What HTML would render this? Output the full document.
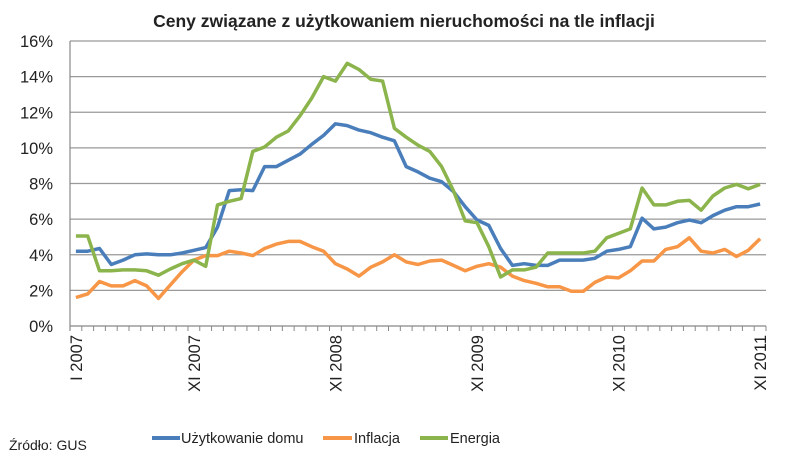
<!DOCTYPE html>
<html><head><meta charset="utf-8"><style>
body{margin:0;background:#fff;}
svg{display:block;font-family:"Liberation Sans",sans-serif;}
</style></head><body>
<svg id="chart" width="805" height="462">
<text x="404" y="27" text-anchor="middle" font-size="17.5" font-weight="bold" fill="#222">Ceny związane z użytkowaniem nieruchomości na tle inflacji</text>
<g id="grid"></g><g id="series"></g><g id="axes"></g>
<text x="9" y="450" font-size="14" fill="#222">Źródło:  GUS</text>
<g>
<line x1="152" y1="438" x2="180" y2="438" stroke="#4a7ebb" stroke-width="4"/>
<text x="181" y="443" font-size="14.5" fill="#222">Użytkowanie domu</text>
<line x1="323" y1="438" x2="352" y2="438" stroke="#f79646" stroke-width="4"/>
<text x="354" y="443" font-size="14.5" fill="#222">Inflacja</text>
<line x1="420" y1="438" x2="448" y2="438" stroke="#8cb44c" stroke-width="4"/>
<text x="450" y="443" font-size="14.5" fill="#222">Energia</text>
</g>
</svg>
<script>
const xLabels = {0:"I 2007",10:"XI 2007",22:"XI 2008",34:"XI 2009",46:"XI 2010",58:"XI 2011"};
const yTicks = [0,2,4,6,8,10,12,14,16];
const uzytkowanie = [4.2,4.2,4.35,3.45,3.7,4.0,4.05,4.0,4.0,4.1,4.25,4.4,5.55,7.6,7.65,7.6,8.95,8.95,9.3,9.65,10.2,10.7,11.35,11.25,11.0,10.85,10.6,10.4,8.95,8.65,8.3,8.1,7.55,6.7,5.95,5.65,4.35,3.4,3.5,3.4,3.4,3.7,3.7,3.7,3.8,4.2,4.3,4.45,6.05,5.45,5.55,5.8,5.95,5.8,6.2,6.5,6.7,6.7,6.85];
const inflacja = [1.6,1.8,2.5,2.25,2.25,2.55,2.25,1.55,2.3,3.05,3.7,3.95,3.95,4.2,4.1,3.95,4.35,4.6,4.75,4.75,4.45,4.2,3.5,3.2,2.8,3.3,3.6,4.0,3.6,3.45,3.65,3.7,3.4,3.1,3.35,3.5,3.3,2.8,2.55,2.4,2.2,2.2,1.95,1.95,2.45,2.75,2.7,3.1,3.65,3.65,4.3,4.45,4.95,4.2,4.1,4.3,3.9,4.25,4.9];
const energia = [5.05,5.05,3.1,3.1,3.15,3.15,3.1,2.85,3.2,3.5,3.7,3.35,6.8,7.0,7.15,9.8,10.05,10.6,10.95,11.8,12.8,14.0,13.75,14.75,14.4,13.85,13.75,11.1,10.6,10.15,9.8,8.95,7.6,5.9,5.8,4.45,2.75,3.15,3.15,3.3,4.1,4.1,4.1,4.1,4.2,4.95,5.2,5.45,7.75,6.8,6.8,7.0,7.05,6.5,7.3,7.75,7.95,7.7,7.95];
const L=70,R=766,T=41,B=326,N=uzytkowanie.length,ymax=16;
const step=(R-L)/N;
const xs=i=>L+step*(i+0.5);
const ys=v=>B-(v/ymax)*(B-T);
const NS="http://www.w3.org/2000/svg";
function mk(tag,attrs,parent){const e=document.createElementNS(NS,tag);for(const k in attrs)e.setAttribute(k,attrs[k]);parent.appendChild(e);return e;}
const grid=document.getElementById('grid'),axes=document.getElementById('axes'),ser=document.getElementById('series');
yTicks.forEach(v=>{
  const g=mk('line',{x1:L,x2:R,y1:ys(v),y2:ys(v),stroke:v===0?'#888':'#999','stroke-width':1.2},grid);
  
  
  const t=mk('text',{x:53,y:ys(v)+6,'text-anchor':'end','font-size':16.5,fill:'#222'},axes);
  t.textContent=v+'%';
  
  
});
const ya=mk('line',{x1:L,x2:L,y1:T,y2:B+5,stroke:'#888','stroke-width':1.2},axes);


for(let i=0;i<=N;i++){
  const tk=mk('line',{x1:L+step*i,x2:L+step*i,y1:B,y2:B+5,stroke:'#888','stroke-width':1},axes);
  
  
}
for(const k in xLabels){
  const x=xs(+k)+6,y=335;
  const t=mk('text',{x:x,y:y,'text-anchor':'end','font-size':16.5,fill:'#222',transform:`rotate(-90 ${x} ${y})`},axes);
  t.textContent=xLabels[k];
  
  
}
[[uzytkowanie,'#4a7ebb','uzytkowanie'],[inflacja,'#f79646','inflacja'],[energia,'#8cb44c','energia']].forEach(([d,c,n])=>{
  const p=mk('polyline',{points:d.map((v,i)=>xs(i).toFixed(1)+','+ys(v).toFixed(1)).join(' '),fill:'none',stroke:c,'stroke-width':3.5,'stroke-linejoin':'round'},ser);
  
  
});
</script>
</body></html>
